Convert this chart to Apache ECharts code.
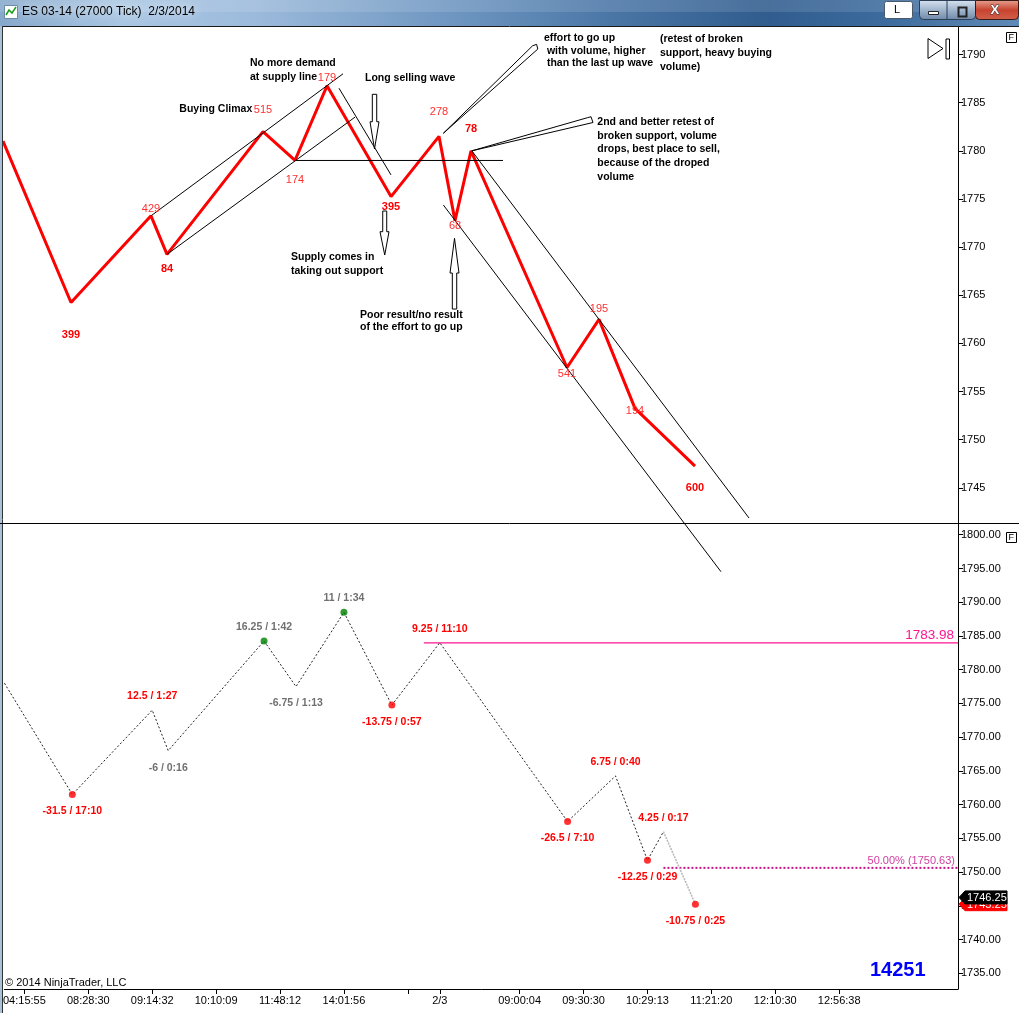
<!DOCTYPE html>
<html>
<head>
<meta charset="utf-8">
<title>ES 03-14 (27000 Tick) 2/3/2014</title>
<script src="https://cdn.jsdelivr.net/npm/echarts@6/dist/echarts.min.js"></script>
<style>
html, body { margin: 0; padding: 0; background: #fff; }
#chart { width: 1019px; height: 1013px; }
</style>
</head>
<body>
<div id="chart"></div>
<script>
/**
 * ES 03-14 tick chart, wave annotations + swing panel
 */

// ---- data ----
// upper panel: hand drawn wave (bar index / price / wave volume)
const waveBars = [0, 17, 37, 41, 65, 73, 81, 97, 109, 113, 117, 141, 149, 158, 173];
const wavePrices = [1781, 1764.25, 1773.25, 1769.25, 1782, 1779, 1786.75, 1775.25, 1781.5, 1772.75, 1780, 1757.5, 1762.5, 1753.25, 1747.25];
const waveVolumes = ['', '399', '429', '84', '515', '174', '179', '395', '278', '68', '78', '541', '195', '194', '600'];

// lower panel: swing indicator
const swingBars = [0, 17, 37, 41, 65, 73, 85, 97, 109, 141, 153, 161, 165, 173];
const swingPrices = [1778, 1761.5, 1774, 1768, 1784.25, 1777.5, 1788.5, 1774.75, 1784, 1757.5, 1764.25, 1751.75, 1756, 1745.25];
const swingLabels = ['', '-31.5 / 17:10', '12.5 / 1:27', '-6 / 0:16', '16.25 / 1:42', '-6.75 / 1:13', '11 / 1:34',
    '-13.75 / 0:57', '9.25 / 11:10', '-26.5 / 7:10', '6.75 / 0:40', '-12.25 / 0:29', '4.25 / 0:17', '-10.75 / 0:25'];
const swingTone = ['', 'red', 'red', 'gray', 'gray', 'gray', 'gray', 'red', 'red', 'red', 'red', 'red', 'red', 'red'];
const swingDots = ['', 'red', '', '', 'green', '', 'green', 'red', '', 'red', '', 'red', '', 'red'];

// axes
const timeTicks = [5, 21, 37, 53, 69, 85, 101, 109, 129, 145, 161, 177, 193, 209];
const timeLabels = ['04:15:55', '08:28:30', '09:14:32', '10:10:09', '11:48:12', '14:01:56', '', '2/3',
    '09:00:04', '09:30:30', '10:29:13', '11:21:20', '12:10:30', '12:56:38'];
const topPriceTicks = [1745, 1750, 1755, 1760, 1765, 1770, 1775, 1780, 1785, 1790];
const bottomPriceTicks = [1735, 1740, 1745, 1750, 1755, 1760, 1765, 1770, 1775, 1780, 1785, 1790, 1795, 1800];

// levels
const resistancePrice = 1783.98;
const resistanceFrom = 105;
const fiftyPrice = 1750.63;
const fiftyFrom = 165;
const lastPrice = 1746.25;
const bidPrice = 1745.25;
const tickCounter = '14251';

// ---- annotations drawn on the upper panel (bar index, price) ----
const trendLines = [
    [[37, 1773.25], [85, 1788.0]],
    [[41, 1769.25], [88, 1783.5]],
    [[73, 1779], [125, 1779]],
    [[84, 1786.5], [97, 1777.5]],
    [[117.2, 1780.0], [186.5, 1741.87]],
    [[110.1, 1774.37], [179.5, 1736.29]]
];
const callouts = [
    [[110.08, 1781.82], [132.4, 1790.91], [133.4, 1791.06], [133.7, 1790.57]],
    [[117.2, 1780.0], [146.1, 1783.44], [147.0, 1783.54], [147.5, 1782.94]]
];
const blockArrows = [
    [[92.33, 1785.87], [93.43, 1785.87], [93.43, 1783.02], [94.0, 1783.02], [92.875, 1780.19], [91.75, 1783.02], [92.33, 1783.02]],
    [[94.93, 1773.75], [95.93, 1773.75], [95.93, 1771.6], [96.5, 1771.6], [95.43, 1769.18], [94.25, 1771.6], [94.93, 1771.6]],
    [[112.875, 1770.91], [114.0, 1767.31], [113.43, 1767.31], [113.43, 1763.57], [112.33, 1763.57], [112.33, 1767.31], [111.75, 1767.31]]
];
const notes = [
    {at: [61.75, 1789.15], gap: 14.6, lines: ['No more demand', 'at supply line']},
    {at: [44.08, 1784.34], gap: 14, lines: ['Buying Climax']},
    {at: [90.5, 1787.53], gap: 14, lines: ['Long selling wave']},
    {at: [72, 1768.94], gap: 13.7, lines: ['Supply comes in', 'taking out support']},
    {at: [89.25, 1762.95], gap: 12.3, lines: ['Poor result/no result', 'of the effort to go up']},
    {at: [135.25, 1791.68], gap: 12.5, lines: ['effort to go up', ' with volume, higher', ' than the last up wave']},
    {at: [164.25, 1791.61], gap: 14, lines: ['(retest of broken', 'support, heavy buying', 'volume)']},
    {at: [148.575, 1783.02], gap: 13.9, lines: ['2nd and better retest of', 'broken support, volume',
        'drops, best place to sell,', 'because of the droped', 'volume']}
];

// label placement of the wave volumes (pixel offset of the label centre)
const waveLabelDy = [0, 32, -7, 15, -22, 20, -8, 10, -24, 5, -22, 6, -10, 3, 22];
const waveLabelBold = [false, true, false, true, false, false, false, true, false, false, true, false, false, false, true];

const FONT = '"Liberation Sans", Arial, sans-serif';
const X_MAX = 238.75;

function isHigh(prices, i) {
    let ref = i > 0 ? prices[i - 1] : prices[i + 1];
    return prices[i] > ref;
}

function textEl(x, y, text, st) {
    return {
        type: 'text', x: x, y: y,
        style: Object.assign({
            text: text, fill: '#000', fontFamily: FONT, fontSize: 11,
            align: 'center', textAlign: 'center', verticalAlign: 'middle', textVerticalAlign: 'middle'
        }, st)
    };
}

/**
 * upper panel annotations
 */
function renderWaveNotes(params, api) {
    let children = [];
    trendLines.forEach(function (line) {
        children.push({
            type: 'polyline',
            shape: {points: line.map(p => api.coord(p))},
            style: {stroke: '#000', lineWidth: 1, fill: null}
        });
    });
    callouts.concat(blockArrows).forEach(function (poly) {
        children.push({
            type: 'polygon',
            shape: {points: poly.map(p => api.coord(p))},
            style: {stroke: '#000', lineWidth: 1, fill: '#fff'}
        });
    });
    notes.forEach(function (n) {
        let p = api.coord(n.at);
        n.lines.forEach(function (line, k) {
            children.push(textEl(p[0], p[1] + k * n.gap, line, {
                fontSize: 10.5, fontWeight: 'bold', align: 'left', textAlign: 'left'
            }));
        });
    });
    waveVolumes.forEach(function (v, i) {
        if (!v) return;
        let p = api.coord([waveBars[i], wavePrices[i]]);
        children.push(textEl(p[0], p[1] + waveLabelDy[i], v, {
            fill: waveLabelBold[i] ? '#ff0000' : '#ff3030',
            fontWeight: waveLabelBold[i] ? 'bold' : 'normal'
        }));
    });
    return {type: 'group', children: children};
}

/**
 * lower panel labels, level captions and price tags
 */
function renderSwingNotes(params, api) {
    let children = [];
    swingLabels.forEach(function (t, i) {
        if (!t) return;
        let p = api.coord([swingBars[i], swingPrices[i]]);
        let dy = isHigh(swingPrices, i) ? -14 : 17;
        children.push(textEl(p[0], p[1] + dy, t, {
            fontSize: 10.5, fontWeight: 'bold',
            fill: swingTone[i] === 'red' ? '#ff0000' : '#707070'
        }));
    });
    let r = api.coord([X_MAX, resistancePrice]);
    children.push(textEl(r[0] - 4, r[1] - 8, resistancePrice.toFixed(2), {
        fontSize: 13.5, fill: '#ff1493', align: 'right', textAlign: 'right'
    }));
    let f = api.coord([X_MAX, fiftyPrice]);
    children.push(textEl(f[0] - 3, f[1] - 7, '50.00% (' + fiftyPrice.toFixed(2) + ')', {
        fontSize: 11, fill: '#d040a0', align: 'right', textAlign: 'right'
    }));
    [[bidPrice, '#ff0000'], [lastPrice, '#000000']].forEach(function (tag) {
        let c = api.coord([X_MAX, tag[0]]);
        let x = c[0], y = c[1];
        children.push({
            type: 'polygon',
            shape: {points: [[x + 1, y], [x + 7, y - 6.5], [x + 49, y - 6.5], [x + 49, y + 6.5], [x + 7, y + 6.5]]},
            style: {fill: tag[1], stroke: tag[1]}
        });
        children.push(textEl(x + 9, y + 0.5, tag[0].toFixed(2), {
            fill: '#fff', fontSize: 11, align: 'left', textAlign: 'left'
        }));
    });
    return {type: 'group', children: children};
}

function initTickChart() {
    let tickChart = echarts.init(document.getElementById('chart'));

    let priceAxisCommon = {
        type: 'value',
        position: 'right',
        axisLine: {show: true, onZero: false, lineStyle: {color: '#000', width: 1}},
        splitLine: {show: false}
    };

    let tickChartOption = {
        animation: false,
        textStyle: {fontFamily: FONT},
        grid: [
            {left: 3, right: 61, top: 27, height: 496},
            {left: 3, right: 61, top: 524, height: 465}
        ],
        xAxis: [
            {gridIndex: 0, type: 'value', min: 0, max: X_MAX, show: false},
            {
                gridIndex: 1, type: 'value', min: 0, max: X_MAX,
                axisLine: {show: true, onZero: false, lineStyle: {color: '#000'}},
                axisTick: {show: true, customValues: timeTicks, length: 5, lineStyle: {color: '#000'}},
                axisLabel: {
                    customValues: timeTicks,
                    formatter: v => timeLabels[timeTicks.indexOf(v)] || '',
                    color: '#000', fontSize: 11, fontFamily: FONT, margin: 6
                },
                splitLine: {show: false}
            }
        ],
        yAxis: [
            Object.assign({}, priceAxisCommon, {
                gridIndex: 0, min: 1741.35, max: 1792.86,
                axisTick: {show: true, customValues: topPriceTicks, length: 5, lineStyle: {color: '#000'}},
                axisLabel: {
                    customValues: topPriceTicks, formatter: v => String(v),
                    color: '#000', fontSize: 11, fontFamily: FONT, margin: 3
                }
            }),
            Object.assign({}, priceAxisCommon, {
                gridIndex: 1, min: 1732.68, max: 1801.59,
                axisTick: {show: true, customValues: bottomPriceTicks, length: 5, lineStyle: {color: '#000'}},
                axisLabel: {
                    customValues: bottomPriceTicks, formatter: v => v.toFixed(2),
                    color: '#000', fontSize: 11, fontFamily: FONT, margin: 3
                }
            })
        ],
        series: [
            {
                name: 'wave',
                type: 'line',
                xAxisIndex: 0, yAxisIndex: 0,
                data: waveBars.map((b, i) => [b, wavePrices[i]]),
                symbol: 'none',
                lineStyle: {color: '#ff0000', width: 3},
                z: 3
            },
            {
                name: 'wave notes',
                type: 'custom',
                xAxisIndex: 0, yAxisIndex: 0,
                clip: false,
                data: [[waveBars[0], wavePrices[0]]],
                renderItem: renderWaveNotes,
                z: 4
            },
            {
                name: 'swings',
                type: 'line',
                xAxisIndex: 1, yAxisIndex: 1,
                data: swingBars.slice(0, -1).map((b, i) => [b, swingPrices[i]]),
                symbol: 'none',
                lineStyle: {color: '#222', width: 1, type: [2, 2]},
                z: 3
            },
            {
                name: 'open swing',
                type: 'line',
                xAxisIndex: 1, yAxisIndex: 1,
                data: swingBars.slice(-2).map((b, i) => [b, swingPrices[swingPrices.length - 2 + i]]),
                symbol: 'none',
                lineStyle: {color: '#b8b8b8', width: 1.5, type: [2, 1]},
                z: 3
            },
            {
                name: 'swing points',
                type: 'scatter',
                xAxisIndex: 1, yAxisIndex: 1,
                symbolSize: 7,
                data: swingBars.map((b, i) => ({
                    value: [b, swingPrices[i]],
                    itemStyle: {color: swingDots[i] === 'green' ? '#008000' : '#ff0000'}
                })).filter((d, i) => swingDots[i]),
                z: 5
            },
            {
                name: 'resistance',
                type: 'line',
                xAxisIndex: 1, yAxisIndex: 1,
                data: [[resistanceFrom, resistancePrice], [X_MAX, resistancePrice]],
                symbol: 'none',
                lineStyle: {color: '#ff1493', width: 1.2},
                z: 2
            },
            {
                name: 'fifty',
                type: 'line',
                xAxisIndex: 1, yAxisIndex: 1,
                data: [[fiftyFrom, fiftyPrice], [X_MAX, fiftyPrice]],
                symbol: 'none',
                lineStyle: {color: '#c8108c', width: 2, type: [2, 2]},
                z: 2
            },
            {
                name: 'swing notes',
                type: 'custom',
                xAxisIndex: 1, yAxisIndex: 1,
                clip: false,
                data: [[swingBars[0], swingPrices[0]]],
                renderItem: renderSwingNotes,
                z: 6
            }
        ],
        graphic: [
            // window title bar
            {
                type: 'rect', left: 0, top: 0, z: 10,
                shape: {width: 1019, height: 26},
                style: {
                    fill: new echarts.graphic.LinearGradient(0, 0, 1, 0, [
                        {offset: 0, color: '#86a8cb'},
                        {offset: 0.12, color: '#a9c6e3'},
                        {offset: 0.25, color: '#9cbadb'},
                        {offset: 0.45, color: '#6d95c0'},
                        {offset: 0.6, color: '#4a76a6'},
                        {offset: 0.75, color: '#305c8e'},
                        {offset: 0.87, color: '#3d6b9d'},
                        {offset: 1, color: '#5f8ab7'}
                    ])
                }
            },
            {
                type: 'rect', left: 0, top: 0, z: 10,
                shape: {width: 1019, height: 12},
                style: {fill: 'rgba(255,255,255,0.12)'}
            },
            {
                type: 'rect', left: 4, top: 5, z: 11,
                shape: {width: 13, height: 13},
                style: {fill: '#fff', stroke: '#6a8aa8'}
            },
            {
                type: 'polyline', z: 12,
                shape: {points: [[6, 15], [9, 10], [12, 13], [16, 7]]},
                style: {stroke: '#1a9a1a', lineWidth: 1.5, fill: null}
            },
            {
                type: 'text', left: 22, top: 6, z: 11,
                style: {
                    text: 'ES 03-14 (27000 Tick)  2/3/2014', fill: '#000', fontSize: 12, fontFamily: FONT,
                    textShadowColor: 'rgba(255,255,255,0.9)', textShadowBlur: 8
                }
            },
            {
                type: 'rect', left: 884, top: 1, z: 11,
                shape: {width: 28, height: 17, r: 2},
                style: {fill: '#fff', stroke: '#4a5a6a'}
            },
            {
                type: 'text', left: 894, top: 4, z: 12,
                style: {text: 'L', fill: '#000', fontSize: 11, fontFamily: FONT}
            },
            {
                type: 'rect', left: 919, top: 0, z: 11,
                shape: {width: 56, height: 19, r: [0, 0, 4, 4]},
                style: {
                    fill: new echarts.graphic.LinearGradient(0, 0, 0, 1, [
                        {offset: 0, color: '#d8e3ef'}, {offset: 0.5, color: '#9fb4cc'}, {offset: 1, color: '#6e88a8'}
                    ]),
                    stroke: '#2c3e55'
                }
            },
            {
                type: 'line', z: 12,
                shape: {x1: 947, y1: 0, x2: 947, y2: 19},
                style: {stroke: '#2c3e55'}
            },
            {
                type: 'rect', left: 928, top: 11, z: 12,
                shape: {width: 10, height: 3},
                style: {fill: '#fff', stroke: '#222'}
            },
            {
                type: 'rect', left: 956, top: 5, z: 12,
                shape: {width: 8, height: 9},
                style: {fill: null, stroke: '#222', lineWidth: 2}
            },
            {
                type: 'rect', left: 975, top: 0, z: 11,
                shape: {width: 43, height: 19, r: [0, 0, 4, 4]},
                style: {
                    fill: new echarts.graphic.LinearGradient(0, 0, 0, 1, [
                        {offset: 0, color: '#e8a393'}, {offset: 0.5, color: '#c7432f'}, {offset: 1, color: '#d2614b'}
                    ]),
                    stroke: '#3a1a14'
                }
            },
            {
                type: 'text', left: 990, top: 3, z: 12,
                style: {text: 'X', fill: '#fff', fontSize: 13, fontWeight: 'bold', fontFamily: FONT, stroke: '#333', lineWidth: 1}
            },
            // frame lines
            {
                type: 'line', z: 10,
                shape: {x1: 0, y1: 26.5, x2: 1019, y2: 26.5},
                style: {stroke: '#1a1a1a', lineWidth: 1}
            },
            {
                type: 'rect', left: 0, top: 26, z: 10,
                shape: {width: 2, height: 987},
                style: {fill: '#a8c0d8'}
            },
            {
                type: 'line', z: 10,
                shape: {x1: 2.5, y1: 26, x2: 2.5, y2: 1013},
                style: {stroke: '#333', lineWidth: 1}
            },
            {
                type: 'line', z: 10,
                shape: {x1: 0, y1: 523.5, x2: 1019, y2: 523.5},
                style: {stroke: '#000', lineWidth: 1}
            },
            // scroll-to-end button
            {
                type: 'polygon', z: 10,
                shape: {points: [[928, 38.5], [943, 48.5], [928, 58.5]]},
                style: {fill: '#fff', stroke: '#000', lineWidth: 1}
            },
            {
                type: 'rect', left: 945.5, top: 38.5, z: 10,
                shape: {width: 3.5, height: 20},
                style: {fill: '#fff', stroke: '#000', lineWidth: 1}
            },
            // panel "F" boxes
            {
                type: 'rect', left: 1006, top: 32, z: 10,
                shape: {width: 10, height: 10},
                style: {fill: '#fff', stroke: '#000'}
            },
            {
                type: 'text', left: 1008.5, top: 33, z: 11,
                style: {text: 'F', fill: '#000', fontSize: 9, fontFamily: FONT}
            },
            {
                type: 'rect', left: 1006, top: 532, z: 10,
                shape: {width: 10, height: 10},
                style: {fill: '#fff', stroke: '#000'}
            },
            {
                type: 'text', left: 1008.5, top: 533, z: 11,
                style: {text: 'F', fill: '#000', fontSize: 9, fontFamily: FONT}
            },
            // footer texts
            {
                type: 'text', left: 5, top: 977, z: 10,
                style: {text: '\u00a9 2014 NinjaTrader, LLC', fill: '#000', fontSize: 11, fontFamily: FONT}
            },
            {
                type: 'text', left: 870, top: 960, z: 10,
                style: {text: tickCounter, fill: '#0000ff', fontSize: 20, fontWeight: 'bold', fontFamily: FONT}
            }
        ]
    };

    tickChart.setOption(tickChartOption);
}

initTickChart();
</script>
</body>
</html>
